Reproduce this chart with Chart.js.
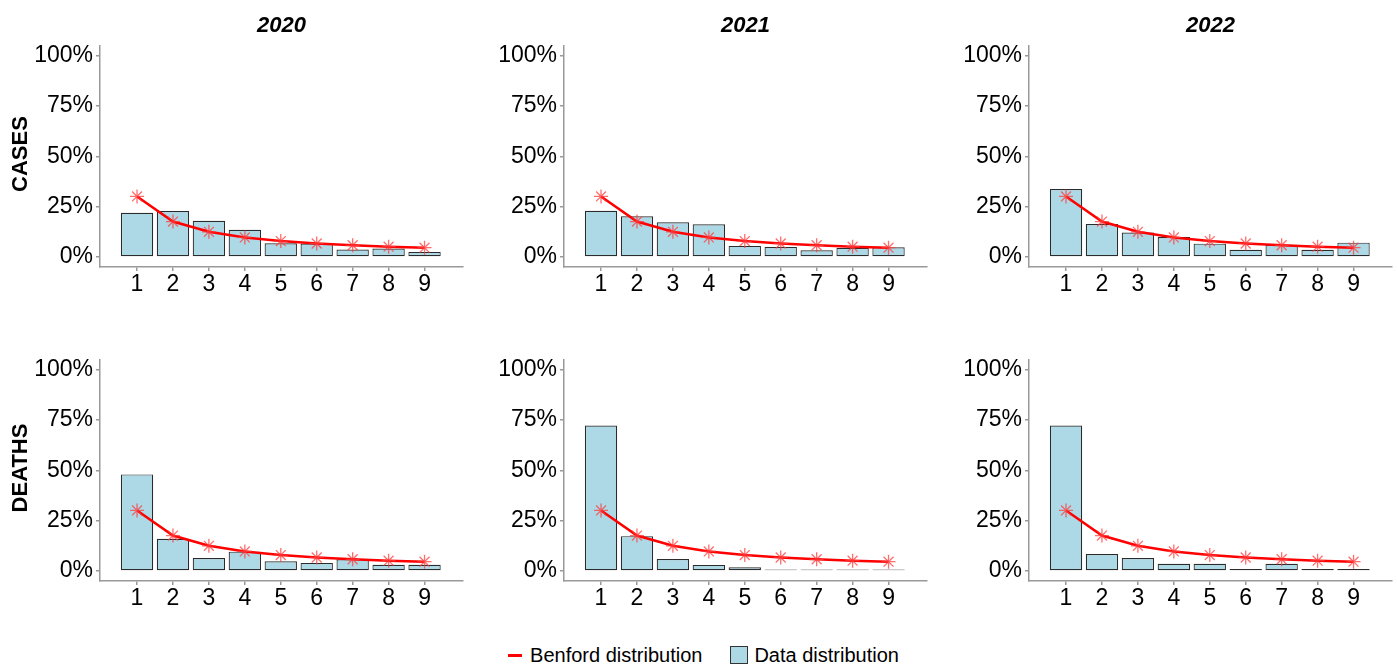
<!DOCTYPE html>
<html>
<head>
<meta charset="utf-8">
<script src="https://cdn.jsdelivr.net/npm/chart.js@4"></script>
<style>
  body { margin: 0; background: #fff; font-family: "Liberation Sans", Arial, sans-serif; }
  #wrap { position: relative; width: 1397px; height: 664px; overflow: hidden; }
  canvas { position: absolute; }
  .coltitle { position: absolute; top: 12px; width: 363px; text-align: center;
              font-size: 22px; font-weight: bold; font-style: italic; line-height: 26px; }
  .rowtitle { position: absolute; width: 200px; text-align: center; font-size: 22px;
              font-weight: bold; line-height: 26px; transform: rotate(-90deg); }
  #legend { position: absolute; top: 643px; left: 5px; width: 1397px; display: flex;
            justify-content: center; font-size: 20px; line-height: 24px; }
  .item { display: flex; align-items: center; margin: 0 14px; }
  .line-key { width: 14px; height: 3px; background: #ff0000; margin-right: 8px; }
  .box-key { width: 16px; height: 16px; background: #add8e6; border: 1px solid #333; margin-right: 6px; }
</style>
</head>
<body>
<div id="wrap">
  <div id="legend">
    <div class="item"><div class="line-key"></div>Benford distribution</div>
    <div class="item"><div class="box-key"></div>Data distribution</div>
  </div>
</div>
<script>
// Data (percentages)
const digits = [1, 2, 3, 4, 5, 6, 7, 8, 9];
const benford = [30.1, 17.6, 12.5, 9.7, 7.9, 6.7, 5.8, 5.1, 4.6];
const years = ['2020', '2021', '2022'];
const rows = ['CASES', 'DEATHS'];

const cases2020 = [22.0, 22.8, 18.0, 13.5, 6.8, 6.7, 3.7, 4.2, 2.5];
const cases2021 = [23.0, 20.2, 17.2, 16.2, 5.5, 5.0, 3.3, 4.5, 4.8];
const cases2022 = [33.8, 16.4, 12.1, 9.9, 6.6, 3.6, 6.1, 3.6, 7.1];
const deaths2020 = [48.0, 16.0, 6.4, 9.6, 4.8, 4.0, 5.8, 3.1, 3.1];
const deaths2021 = [72.3, 17.3, 5.9, 3.0, 1.8, 0.7, 0.7, 0.7, 0.7];
const deaths2022 = [72.3, 8.4, 6.4, 3.6, 3.6, 1.0, 3.6, 1.0, 1.0];

const yTicks = [0, 25, 50, 75, 100];

const panelData = [
    [cases2020, cases2021, cases2022],
    [deaths2020, deaths2021, deaths2022]
];

// Panel geometry (plot area)
const colLeft = [100, 564, 1029];
const rowTop = [45, 359];
const plotW = 363;
const plotH = 222;
const yAxisW = 80;
const xAxisH = 40;
const padTop = 16;
const padRight = 10;

Chart.defaults.font.family = '"Liberation Sans", Arial, sans-serif';
Chart.defaults.color = '#000';

const wrap = document.getElementById('wrap');

function toPoints(values) {
    return digits.map((d, i) => ({ x: d, y: values[i] }));
}

function makePanel(r, c) {
    const canvas = document.createElement('canvas');
    const w = yAxisW + plotW + padRight;
    const h = padTop + plotH + xAxisH;
    canvas.width = w;
    canvas.height = h;
    canvas.style.left = (colLeft[c] - yAxisW) + 'px';
    canvas.style.top = (rowTop[r] - padTop) + 'px';
    wrap.appendChild(canvas);

    new Chart(canvas.getContext('2d'), {
        type: 'bar',
        data: {
            datasets: [
                {
                    type: 'line',
                    label: 'Benford distribution',
                    data: toPoints(benford),
                    borderColor: '#ff0000',
                    borderWidth: 2.5,
                    pointStyle: 'star',
                    pointRadius: 7,
                    pointBorderColor: 'rgba(255, 60, 60, 0.75)',
                    pointBorderWidth: 1.3,
                    tension: 0,
                    order: 0
                },
                {
                    type: 'bar',
                    label: 'Data distribution',
                    data: toPoints(panelData[r][c]),
                    backgroundColor: '#add8e6',
                    borderColor: '#2b2b2b',
                    borderWidth: 1.2,
                    borderSkipped: false,
                    barPercentage: 0.9,
                    categoryPercentage: 1,
                    order: 1
                }
            ]
        },
        options: {
            responsive: false,
            devicePixelRatio: 1,
            animation: false,
            layout: { padding: { top: padTop, right: padRight, left: 0, bottom: 0 } },
            plugins: { legend: { display: false }, tooltip: { enabled: false } },
            scales: {
                x: {
                    type: 'linear',
                    offset: false,
                    min: -0.03,
                    max: 10.07,
                    afterBuildTicks: (scale) => { scale.ticks = digits.map(v => ({ value: v })); },
                    afterFit: (scale) => { scale.height = xAxisH; },
                    ticks: { font: { size: 23 }, padding: 0, maxRotation: 0, autoSkip: false },
                    grid: { offset: false, drawOnChartArea: false, tickLength: 4, color: '#999', lineWidth: 1.5 },
                    border: { color: '#999', width: 1.5 }
                },
                y: {
                    min: -5,
                    max: 105,
                    afterBuildTicks: (scale) => { scale.ticks = yTicks.map(v => ({ value: v })); },
                    afterFit: (scale) => { scale.width = yAxisW; },
                    ticks: { font: { size: 23 }, padding: 3, callback: (v) => v + '%' },
                    grid: { drawOnChartArea: false, tickLength: 4, color: '#999', lineWidth: 1.5 },
                    border: { color: '#999', width: 1.5 }
                }
            }
        }
    });
}

rows.forEach((name, r) => {
    years.forEach((y, c) => makePanel(r, c));
    const lab = document.createElement('div');
    lab.className = 'rowtitle';
    lab.textContent = name;
    lab.style.left = (20 - 100) + 'px';
    lab.style.top = (rowTop[r] + plotH / 2 - 15) + 'px';
    wrap.appendChild(lab);
});

years.forEach((y, c) => {
    const t = document.createElement('div');
    t.className = 'coltitle';
    t.textContent = y;
    t.style.left = colLeft[c] + 'px';
    wrap.appendChild(t);
});
</script>
</body>
</html>
